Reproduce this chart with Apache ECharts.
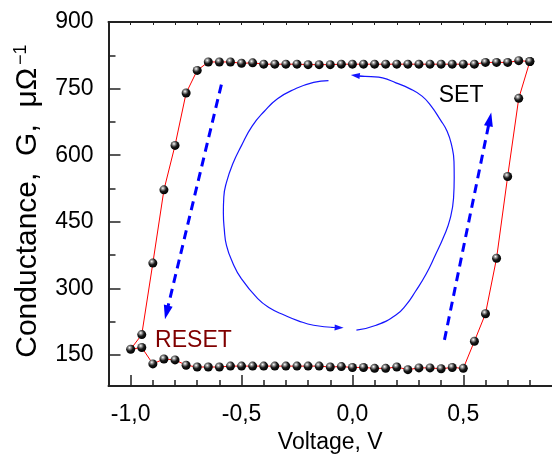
<!DOCTYPE html>
<html><head><meta charset="utf-8">
<script src="https://cdn.jsdelivr.net/npm/echarts@6/dist/echarts.min.js"></script>
<style>html,body{margin:0;padding:0;background:#fff}#c{width:552px;height:459px}</style>
</head><body><div id="c"></div>
<script>
// ---- measured loop (voltage, conductance), in sweep order ----
const voltage = [
  0.80, 0.75, 0.70, 0.65, 0.60, 0.55, 0.50, 0.45, 0.40, 0.35, 0.30, 0.25, 0.20, 0.15, 0.10, 0.05, 0.00,
  -0.05, -0.10, -0.15, -0.20, -0.25, -0.30, -0.35, -0.40, -0.45, -0.50, -0.55, -0.60, -0.65,
  -0.70, -0.75, -0.80, -0.85, -0.90, -0.95, -1.00,
  -0.95, -0.90, -0.85, -0.80, -0.75, -0.70, -0.65, -0.60, -0.55, -0.50, -0.45, -0.40, -0.35, -0.30,
  -0.25, -0.20, -0.15, -0.10, -0.05, 0.00, 0.05, 0.10, 0.15, 0.20, 0.25, 0.30, 0.35, 0.40, 0.45, 0.50,
  0.55, 0.60, 0.65, 0.70, 0.75, 0.80
];
const conductance = [
  811, 813, 809, 809, 809, 805, 805, 805, 805, 805, 805, 805, 805, 805, 805, 805, 805,
  805, 804, 804, 804, 805, 805, 805, 805, 808, 807, 810, 810, 810,
  791, 740, 622, 522, 357, 196, 163,
  167, 130, 141, 139, 127, 123, 123, 123, 125, 125, 125, 125, 125, 125,
  125, 125, 125, 123, 124, 122, 122, 120, 120, 123, 117, 121, 121, 119, 122, 120,
  181, 243, 368, 552, 728, 811
];

// ---- guide curves (annotation) ----
const arcLeftV = [-0.108, -0.175, -0.264, -0.338, -0.397, -0.453, -0.501, -0.540, -0.568, -0.580, -0.582,
  -0.578, -0.568, -0.540, -0.501, -0.427, -0.373, -0.308, -0.244, -0.175, -0.080];
const arcLeftG = [768, 764, 748, 727, 699, 665, 621, 580, 539, 506, 471,
  434, 397, 358, 322, 277, 256, 240, 227, 217, 212];
const arcRightV = [0.018, 0.107, 0.196, 0.244, 0.284, 0.333, 0.373, 0.413, 0.440, 0.456, 0.459,
  0.458, 0.448, 0.427, 0.396, 0.356, 0.314, 0.258, 0.196, 0.136, 0.084, 0.031];
const arcRightG = [206, 217, 240, 264, 293, 333, 374, 418, 456, 503, 550,
  586, 621, 654, 680, 710, 733, 750, 763, 774, 777, 778];
const smallArrows = [
  [[-0.095, 212.5], [-0.06, 211.7]],
  [[0.053, 777.2], [0.013, 779.5]]
];
const dashedArrows = [
  [[-0.591, 759], [-0.838, 246]],
  [[0.415, 184], [0.6196, 681]]
];
const notes = [
  {text: 'SET', v: 0.49, g: 734, color: '#000000'},
  {text: 'RESET', v: -0.717, g: 182, color: '#800000'}
];

// ---- axis ticks ----
const yMajor = [150, 300, 450, 600, 750, 900];
const yMinor = [225, 375, 525, 675, 825];
const xMajor = [-1.0, -0.5, 0.0, 0.5];
const xMinor = [-0.9, -0.8, -0.7, -0.6, -0.4, -0.3, -0.2, -0.1, 0.1, 0.2, 0.3, 0.4, 0.6, 0.7, 0.8];
const xAll = [-1.0, -0.9, -0.8, -0.7, -0.6, -0.5, -0.4, -0.3, -0.2, -0.1, 0.0, 0.1, 0.2, 0.3, 0.4, 0.5, 0.6, 0.7, 0.8];

const FONT = 'Liberation Sans, Arial, sans-serif';
const AX = '#222';
const sphere = {
  type: 'radial', x: 0.38, y: 0.32, r: 0.68,
  colorStops: [
    {offset: 0, color: '#ffffff'},
    {offset: 0.22, color: '#9a9a9a'},
    {offset: 0.55, color: '#1a1a1a'},
    {offset: 1, color: '#000000'}
  ]
};
const BLUE = '#1515ff';

const chart = echarts.init(document.getElementById('c'), null, {renderer: 'canvas'});
chart.setOption({
  animation: false,
  backgroundColor: '#ffffff',
  grid: {left: 108.5, top: 22, width: 450, height: 366, containLabel: false},
  xAxis: [
    {
      type: 'value', min: -1.1, max: 0.9, position: 'bottom',
      axisLine: {show: true, onZero: false, lineStyle: {color: AX, width: 2}},
      axisTick: {show: true, inside: true, length: 11, customValues: xMajor, lineStyle: {color: AX, width: 1.5}},
      axisLabel: {show: true, customValues: xMajor, margin: 17, color: '#000', fontSize: 23, fontFamily: FONT,
        formatter: v => v.toFixed(1).replace('.', ',')},
      splitLine: {show: false},
      name: 'Voltage, V', nameLocation: 'middle', nameGap: 39,
      nameTextStyle: {color: '#000', fontSize: 23, fontFamily: FONT}
    },
    {
      type: 'value', min: -1.1, max: 0.9, position: 'bottom',
      axisLine: {show: false, onZero: false},
      axisTick: {show: true, inside: true, length: 6, customValues: xMinor, lineStyle: {color: AX, width: 1.5}},
      axisLabel: {show: false}, splitLine: {show: false}
    },
    {
      type: 'value', min: -1.1, max: 0.9, position: 'top',
      axisLine: {show: true, onZero: false, lineStyle: {color: AX, width: 2}},
      axisTick: {show: true, inside: true, length: 3, customValues: xAll, lineStyle: {color: AX, width: 1}},
      axisLabel: {show: false}, splitLine: {show: false}
    }
  ],
  yAxis: [
    {
      type: 'value', min: 80, max: 900, position: 'left',
      axisLine: {show: true, onZero: false, lineStyle: {color: AX, width: 2}},
      axisTick: {show: true, inside: true, length: 12, customValues: yMajor, lineStyle: {color: AX, width: 1.5}},
      axisLabel: {show: true, customValues: yMajor, margin: 15, color: '#000', fontSize: 23, fontFamily: FONT},
      splitLine: {show: false},
      name: '{b|Conductance,  G,  μΩ}{s|−1}', nameLocation: 'middle', nameGap: 66,
      nameTextStyle: {
        color: '#000', fontSize: 30, fontFamily: FONT, padding: [0, 0, 0, 6],
        rich: {
          b: {fontSize: 30, fontFamily: FONT, color: '#000'},
          s: {fontSize: 18, fontFamily: FONT, color: '#000', verticalAlign: 'top', padding: [0, 0, 0, 3]}
        }
      }
    },
    {
      type: 'value', min: 80, max: 900, position: 'left',
      axisLine: {show: false, onZero: false},
      axisTick: {show: true, inside: true, length: 7, customValues: yMinor, lineStyle: {color: AX, width: 1.5}},
      axisLabel: {show: false}, splitLine: {show: false}
    }
  ],
  series: [
    {
      type: 'line', name: 'arcL', xAxisIndex: 0, yAxisIndex: 0,
      data: arcLeftV.map((v, i) => [v, arcLeftG[i]]),
      smooth: 0.5, symbol: 'none', lineStyle: {color: BLUE, width: 1.2}, z: 2
    },
    {
      type: 'line', name: 'arcR', xAxisIndex: 0, yAxisIndex: 0,
      data: arcRightV.map((v, i) => [v, arcRightG[i]]),
      smooth: 0.5, symbol: 'none', lineStyle: {color: BLUE, width: 1.2}, z: 2
    },
    {
      type: 'lines', coordinateSystem: 'cartesian2d', xAxisIndex: 0, yAxisIndex: 0,
      data: smallArrows.map(c => ({coords: c})),
      symbol: ['none', 'triangle'], symbolSize: [0, [6, 9]],
      lineStyle: {color: BLUE, width: 1.2, opacity: 1}, z: 3
    },
    {
      type: 'lines', coordinateSystem: 'cartesian2d', xAxisIndex: 0, yAxisIndex: 0,
      data: dashedArrows.map(c => ({coords: c})),
      symbol: ['none', 'triangle'], symbolSize: [0, [9, 14]],
      lineStyle: {color: '#0000ff', width: 3, type: [9, 6], opacity: 1}, z: 3
    },
    {
      type: 'line', name: 'G', xAxisIndex: 0, yAxisIndex: 0,
      data: voltage.map((v, i) => [v, conductance[i]]),
      symbol: 'circle', symbolSize: 9, showSymbol: true,
      lineStyle: {color: '#ff0000', width: 1},
      itemStyle: {color: sphere, borderWidth: 0},
      z: 5
    },
    {
      type: 'scatter', xAxisIndex: 0, yAxisIndex: 0, symbolSize: 0, z: 6,
      itemStyle: {opacity: 1},
      data: notes.map(n => ({
        value: [n.v, n.g],
        label: {show: true, position: 'inside', formatter: n.text, color: n.color,
          textBorderWidth: 0, opacity: 1, fontSize: 23, fontFamily: FONT}
      }))
    }
  ]
});
</script></body></html>
